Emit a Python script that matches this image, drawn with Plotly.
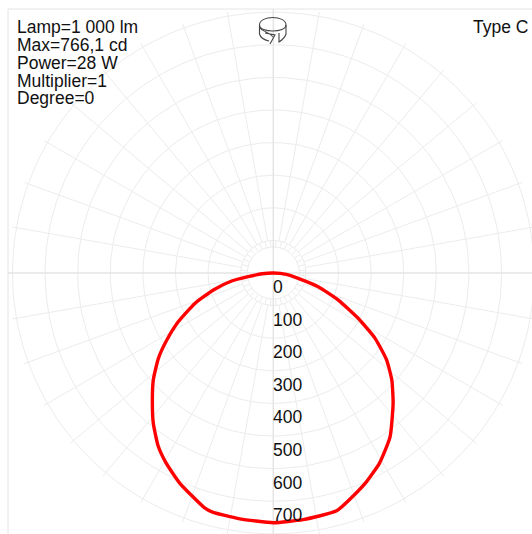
import numpy as np
import plotly.graph_objects as go

W, H = 532, 534
CX, CY, SCALE = 273.3, 273.0, 0.326  # pixel centre, px per cd

# luminous intensity (gamma from nadir, cd)
gamma_left = [90, 86, 81.6, 79.1, 74.2, 68.8, 62.9, 57.8, 53.4, 48.3, 42.9, 38.6, 33.7, 29.6, 24.1, 16.4, 14.1, 10.1, 7.7, 0]
cd_left = [0, 34, 78, 130, 191, 258, 327, 386, 439, 493, 545, 590, 637, 668, 705, 750, 757, 759, 761, 766]
gamma_right = [6.9, 14.9, 19.8, 24.1, 29.2, 35.4, 42.6, 47.9, 52.5, 57.3, 61.9, 67.4, 73, 78, 84.3, 90]
cd_right = [762, 755, 726, 701, 668, 618, 543, 490, 438, 371, 295, 216, 144, 78, 40, 0]

ring_values = [80, 100, 200, 300, 400, 500, 600, 700, 800]
scale_labels = [0, 100, 200, 300, 400, 500, 600, 700]
info_lines = ["Lamp=1 000 lm", "Max=766,1 cd", "Power=28 W", "Multiplier=1", "Degree=0"]
type_label = "Type C"

FONT = "Liberation Sans"
GRID = "#ececec"
AXIS = "#e4e4e4"
xlim = [-CX / SCALE, (W - CX) / SCALE]
ylim = [-(H - CY) / SCALE, CY / SCALE]
left_edge = (8 - CX) / SCALE
top_edge = (CY - 9) / SCALE

fig = go.Figure()

# rings
rx, ry = [], []
t = np.radians(np.arange(0, 361, 2))
for v in ring_values:
    rx += list(v * np.cos(t)) + [None]
    ry += list(v * np.sin(t)) + [None]
fig.add_trace(go.Scatter(x=rx, y=ry, mode="lines", line=dict(color=GRID, width=1), hoverinfo="skip"))

# spokes
sx, sy = [], []
for a in range(0, 360, 5):
    r0, r1 = (100, 813) if a % 10 == 0 else (80, 100)
    if a % 90 == 0:
        continue
    c, s = np.cos(np.radians(a)), np.sin(np.radians(a))
    sx += [r0 * c, r1 * c, None]
    sy += [r0 * s, r1 * s, None]
fig.add_trace(go.Scatter(x=sx, y=sy, mode="lines", line=dict(color=GRID, width=1), hoverinfo="skip"))

# main axes
fig.add_trace(go.Scatter(x=[left_edge, xlim[1], None, 0, 0], y=[0, 0, None, top_edge, ylim[0]],
                         mode="lines", line=dict(color=AXIS, width=1.5), hoverinfo="skip"))
# frame
fig.add_trace(go.Scatter(x=[left_edge, left_edge, xlim[1]], y=[ylim[0], top_edge, top_edge],
                         mode="lines", line=dict(color=AXIS, width=1), hoverinfo="skip"))

# curve
g = np.radians(gamma_left + gamma_right)
r = np.array(cd_left + cd_right, dtype=float)
sign = np.array([-1] * len(gamma_left) + [1] * len(gamma_right))
fig.add_trace(go.Scatter(x=sign * r * np.sin(g), y=-r * np.cos(g), mode="lines",
                         line=dict(color="#ff0000", width=3.4, shape="spline", smoothing=0.5),
                         hoverinfo="skip"))

annotations = []
for v in scale_labels:
    annotations.append(dict(x=0, y=-v, xref="x", yref="y", text=str(v), showarrow=False,
                            xanchor="left", yanchor="middle", yshift=-14, xshift=-2,
                            font=dict(family=FONT, size=17.5, color="#111111")))
for i, line in enumerate(info_lines):
    annotations.append(dict(x=14.5 / W, y=1 - (27.5 + 17.7 * i) / H, xref="paper", yref="paper", text=line,
                            showarrow=False, xanchor="left", yanchor="middle",
                            font=dict(family=FONT, size=17.5, color="#111111")))
annotations.append(dict(x=530 / W, y=1 - 27.5 / H, xref="paper", yref="paper", text=type_label,
                        showarrow=False, xanchor="right", yanchor="middle",
                        font=dict(family=FONT, size=17.5, color="#111111")))


def P(x, y):
    return f"{x / W:.5f},{1 - y / H:.5f}"


icon_paths = [
    # top ellipse
    f"M{P(259.5, 25)} C{P(259.5, 15)} {P(286, 15)} {P(286, 25)} C{P(286, 33)} {P(259.5, 33)} {P(259.5, 25)} Z",
    # left side and lower edge to the arrow
    f"M{P(259.5, 25)} L{P(259.5, 34)} C{P(260.5, 38)} {P(265, 40)} {P(269, 41)}",
    # arrow head
    f"M{P(265, 33)} L{P(275, 35)} L{P(270, 44)} M{P(260, 28)} C{P(262, 31)} {P(269, 32)} {P(273, 37)}",
    # right side
    f"M{P(286, 25)} L{P(286, 34)} C{P(285, 38)} {P(282, 40)} {P(279, 42)} L{P(279, 33)}",
]
shapes = [dict(type="path", xref="paper", yref="paper", path=p,
               line=dict(color="#444444", width=1.1)) for p in icon_paths]

fig.update_layout(
    width=W, height=H, margin=dict(l=0, r=0, t=0, b=0), showlegend=False,
    paper_bgcolor="white", plot_bgcolor="white",
    xaxis=dict(range=xlim, visible=False, fixedrange=True),
    yaxis=dict(range=ylim, visible=False, fixedrange=True),
    annotations=annotations, shapes=shapes,
)
fig.write_html("out.html", config=dict(displayModeBar=False),
               post_script="document.body.style.margin='0';document.documentElement.style.overflow='hidden';")
